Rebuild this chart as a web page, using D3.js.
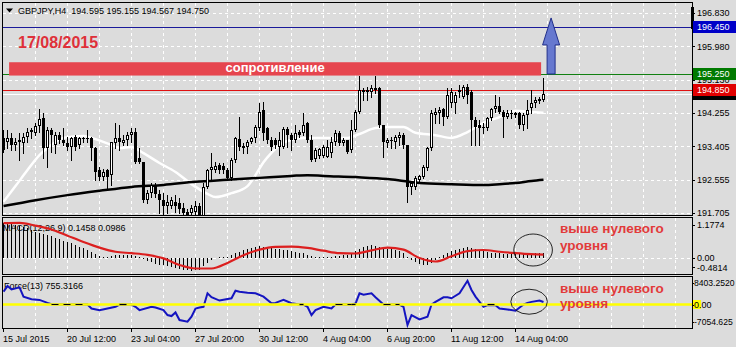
<!DOCTYPE html>
<html><head><meta charset="utf-8">
<script src="https://cdn.jsdelivr.net/npm/d3@7"></script>
<style>
html,body{margin:0;padding:0;background:#dcdcdc;}
svg{display:block;font-family:"Liberation Sans",Arial,sans-serif;}
</style>
</head><body>
<svg id="c" width="736" height="347"></svg>
<script>
// ---------------- DATA ----------------
const titleText = "GBPJPY,H4  194.595 195.155 194.567 194.750";
const dateText = "17/08/2015";
const zoneText = "сопротивление";
const noteLine1 = "выше нулевого";
const noteLine2 = "уровня";

const openP = [193.61,193.52,193.61,193.44,193.57,193.48,193.65,193.78,193.75,193.92,
194.12,193.35,193.82,193.44,193.69,193.57,193.48,193.40,193.65,193.44,
193.61,193.59,193.61,193.35,192.80,192.63,192.80,192.67,193.48,193.61,
193.48,193.57,193.69,193.78,193.10,193.01,192.04,192.21,192.42,192.19,
192.04,191.87,191.88,191.99,191.95,191.82,191.74,191.71,191.73,191.87,
191.60,192.38,192.80,192.80,192.93,192.90,192.80,192.59,193.06,193.58,
193.41,193.40,193.52,193.61,193.86,194.33,193.86,193.57,193.57,193.40,
193.40,193.84,193.69,193.57,193.78,193.74,193.99,193.57,193.07,193.16,
193.16,193.14,193.23,193.52,193.75,193.48,193.57,193.31,193.82,194.29,
194.84,194.80,194.80,194.88,194.88,193.95,193.48,193.57,193.52,193.61,
193.69,193.44,192.36,192.36,192.55,192.63,192.84,193.35,194.20,194.25,
194.35,194.16,194.50,194.50,194.84,194.67,194.93,194.80,194.08,193.95,
193.86,193.86,194.12,194.35,194.43,194.29,194.16,194.25,194.20,194.25,
193.95,194.20,194.37,194.50,194.57,194.595];
const highP = [193.82,193.82,193.74,193.61,193.74,193.74,193.86,193.86,193.99,194.35,
194.25,193.90,193.86,193.78,193.78,193.86,193.65,193.65,193.69,193.65,
193.65,193.82,193.65,193.40,192.89,192.82,192.82,193.52,193.99,193.95,
193.69,193.78,193.86,193.86,193.35,193.01,192.29,192.46,192.46,192.29,
192.21,192.16,192.12,192.16,192.08,191.95,191.80,191.91,192.00,191.95,
192.46,192.82,193.23,193.01,192.97,192.97,192.84,193.10,193.65,194.16,
193.48,193.57,193.65,193.95,194.50,194.54,193.91,193.65,193.61,193.78,
193.91,193.91,193.74,193.95,193.82,194.25,194.03,193.69,193.35,193.35,
193.44,193.57,193.65,193.82,193.80,193.61,193.57,194.08,194.33,195.20,
194.88,194.93,194.97,195.20,194.93,193.95,193.61,193.65,193.69,193.78,
193.74,193.44,192.50,192.65,192.67,192.93,193.40,194.33,194.37,194.42,
194.37,194.88,194.88,194.80,194.97,194.97,195.00,194.84,194.16,194.08,
193.99,194.16,194.37,194.71,194.67,194.33,194.33,194.33,194.29,194.29,
194.26,194.59,194.83,194.67,194.67,195.155];
const lowP = [193.27,193.35,193.31,193.31,193.06,193.23,193.52,193.61,193.69,193.78,
193.10,192.89,193.27,193.23,193.48,193.44,193.31,193.06,193.31,193.35,
193.52,193.52,193.06,192.55,192.55,192.55,192.29,192.42,193.35,193.31,
193.44,193.44,193.52,192.98,192.97,191.99,191.95,192.12,192.12,191.70,
191.66,191.70,191.82,191.74,191.70,191.65,191.63,191.63,191.60,191.55,
191.55,192.33,192.55,192.76,192.72,192.73,192.55,192.55,193.01,193.31,
193.23,193.23,193.48,193.52,193.82,193.57,193.48,193.31,193.35,193.18,
193.35,193.40,193.31,193.52,193.65,193.69,193.52,193.04,193.04,193.10,
193.12,193.12,193.14,193.44,193.44,193.44,193.23,193.27,193.80,194.26,
194.59,194.59,194.67,194.76,193.91,193.14,193.40,193.35,193.35,193.44,
193.35,191.99,192.19,192.31,192.50,192.59,192.80,193.31,194.00,194.00,
193.95,194.12,194.42,194.25,194.67,194.63,194.50,193.44,193.44,193.44,
193.74,193.82,194.08,194.29,194.26,193.65,194.12,194.12,194.16,193.86,
193.82,193.86,194.25,194.42,194.52,194.567];
const closeP = [193.31,193.61,193.44,193.52,193.52,193.65,193.78,193.82,193.92,194.09,
193.35,193.82,193.69,193.69,193.57,193.48,193.40,193.61,193.40,193.61,
193.59,193.61,193.35,192.76,192.63,192.76,192.63,193.52,193.61,193.52,
193.57,193.69,193.78,193.01,193.01,192.04,192.21,192.42,192.19,192.04,
191.87,191.99,192.04,191.87,191.80,191.71,191.65,191.82,191.87,191.60,
192.38,192.80,192.89,192.91,192.80,192.80,192.59,193.06,193.61,193.40,
193.35,193.52,193.61,193.91,194.29,193.74,193.57,193.40,193.44,193.57,
193.84,193.69,193.57,193.74,193.69,193.95,193.57,193.06,193.31,193.33,
193.38,193.40,193.52,193.74,193.48,193.57,193.27,193.82,194.29,194.84,
194.80,194.84,194.88,194.84,193.95,193.52,193.57,193.54,193.65,193.69,
193.44,192.38,192.46,192.59,192.65,192.89,193.35,194.25,194.29,194.33,
194.16,194.71,194.80,194.71,194.80,194.93,194.71,194.08,193.91,193.86,
193.91,194.12,194.35,194.43,194.29,194.16,194.25,194.25,194.25,193.95,
194.20,194.33,194.50,194.59,194.60,194.750];

// moving averages (sampled bars)
const maFastBars = [0,3,6,9,11,15,20,22,27,29,32,35,39,43,47,51,53,57,61,63,65,67,69,72,75,80,86,89,93,97,100,103,108,112,116,120,124,128,132,135];
const maFastVals = [191.99,192.39,192.80,193.18,193.36,193.62,193.67,193.62,193.44,193.36,193.39,193.23,192.98,192.75,192.44,192.19,192.11,192.21,192.39,192.67,193.00,193.24,193.44,193.57,193.62,193.62,193.62,193.72,193.87,193.90,193.90,193.75,193.69,193.62,193.77,194.00,194.15,194.31,194.28,194.26];
const maSlowBars = [0,8,16,24,32,40,48,56,64,72,76,80,88,96,100,104,112,120,124,128,132,135];
const maSlowVals = [191.88,192.03,192.16,192.27,192.37,192.42,192.50,192.55,192.60,192.65,192.67,192.65,192.62,192.57,192.52,192.47,192.44,192.42,192.44,192.47,192.52,192.55];

// MACD(12,26,9)
const macdHist = [1.00,1.00,0.98,0.96,0.93,0.90,0.86,0.80,0.76,0.73,
0.70,0.66,0.62,0.58,0.54,0.50,0.47,0.43,0.38,0.33,
0.28,0.23,0.18,0.12,0.07,0.04,0.03,0.05,0.08,0.10,
0.10,0.10,0.09,0.07,0.02,-0.04,-0.08,-0.12,-0.16,-0.19,
-0.21,-0.24,-0.27,-0.30,-0.32,-0.34,-0.35,-0.36,-0.35,-0.33,
-0.24,-0.14,-0.06,0.00,0.02,0.03,0.04,0.09,0.14,0.18,
0.22,0.25,0.28,0.33,0.35,0.33,0.31,0.29,0.27,0.25,
0.24,0.22,0.19,0.16,0.14,0.13,0.10,0.06,0.04,0.03,
0.03,0.03,0.04,0.05,0.07,0.08,0.10,0.14,0.20,0.27,
0.32,0.34,0.36,0.35,0.32,0.28,0.27,0.26,0.24,0.20,
0.14,0.04,-0.06,-0.12,-0.16,-0.19,-0.20,-0.15,-0.06,0.02,
0.08,0.14,0.19,0.23,0.27,0.30,0.31,0.28,0.25,0.21,
0.19,0.17,0.15,0.14,0.13,0.12,0.12,0.12,0.12,0.11,
0.11,0.12,0.13,0.14,0.14,0.1458];
const macdSignalBars = [0,4,8,12,16,20,24,28,32,36,40,44,48,52,56,60,64,68,72,76,80,84,88,92,96,100,104,108,112,116,120,124,128,132,135];
const macdSignalVals = [1.00,1.01,0.93,0.82,0.64,0.46,0.30,0.18,0.14,0.09,-0.01,-0.20,-0.30,-0.30,-0.14,0.08,0.24,0.32,0.33,0.29,0.21,0.14,0.13,0.22,0.30,0.24,0.00,-0.10,0.05,0.20,0.23,0.18,0.14,0.11,0.0986];
const macdLabel = "MACD(12,26,9) 0.1458 0.0986";
const macdAxis = ["1.1774","0.00","-0.4814"];
const macdAxisVals = [1.1774,0,-0.4814];

// Force(13)
const forceBars = [0,1,2,4,5,7,9,11,12,21,22,24,26,28,29,32,33,34,37,38,40,41,42,43,44,46,47,48,49,50,51,52,54,57,58,59,61,63,65,67,68,70,72,74,75,76,77,78,80,82,83,87,88,89,90,92,93,95,99,100,101,102,104,106,107,108,110,111,112,114,116,117,118,120,121,123,124,126,128,130,131,132,134,135];
const forceVals = [3900,5600,4600,5200,2400,1600,1400,500,100,0,-1200,-1700,-1200,-700,0,0,-700,-1700,-700,-900,-1700,-3200,-3500,-2400,-4700,-5200,-3700,-1200,-900,-700,3400,2200,1200,1900,4200,3900,3600,3400,2400,400,500,1400,400,0,0,-700,-3200,-1700,-700,-1200,0,0,300,3400,3000,3400,2200,0,0,-700,-6200,-3200,-4500,-3700,0,800,2200,2200,1900,3400,7200,4400,2400,-700,-200,-200,-1200,-1500,-1900,0,500,800,1200,755.3];
const forceLabel = "Force(13) 755.3166";
const forceAxis = ["8403.2520","0.00","-7054.625"];
const forceAxisVals = [8403.252,0,-7054.625];

// axes
const timeLabels = ["15 Jul 2015","20 Jul 12:00","23 Jul 04:00","27 Jul 20:00","30 Jul 12:00","4 Aug 04:00","6 Aug 20:00","11 Aug 12:00","14 Aug 04:00"];
const timeLabelBars = [0,16,32,48,64,80,96,112,128];
const priceTicks = [196.805,195.955,195.105,194.255,193.405,192.555,191.705];
const priceTickText = ["196.830","195.980","195.130","194.255","193.405","192.555","191.705"];

// horizontal lines / objects
const bidPrice = 194.750;
const levelPrices = [196.450, 195.250, 194.850];
const levelText = ["196.450","195.250","194.850"];
const levelColors = ["#0000c8","#007a00","#e00000"];
const levelLineColors = ["#1a1a9a","#118011","#e01010"];
const zoneTop = 195.55, zoneBottom = 195.21, zoneFromBar = 1.4, zoneToBar = 134.4;
const arrowBar = 136.9, arrowFrom = 195.25, arrowTo = 196.68;

// ---------------- LAYOUT ----------------
const svg = d3.select("#c");
const L = 3, R = 692;
const x = d3.scaleLinear().domain([0, 1]).range([3.5, 7.5]);
const y = d3.scaleLinear().domain([191.653, 197.061]).range([215, 3]);
const ym = d3.scaleLinear().domain([-0.4814, 1.1774]).range([274.8, 217]);
const yf = d3.scaleLinear().domain([-7054.625, 8403.252]).range([327.8, 276.8]);
const FS = 9;

svg.append("rect").attr("width",736).attr("height",347).attr("fill","#dcdcdc");

const defs = svg.append("defs");
defs.append("clipPath").attr("id","cm").append("rect").attr("x",L).attr("y",3).attr("width",R-L).attr("height",212);
defs.append("clipPath").attr("id","cd").append("rect").attr("x",L).attr("y",218).attr("width",R-L).attr("height",56);
defs.append("clipPath").attr("id","cf").append("rect").attr("x",L).attr("y",277).attr("width",R-L).attr("height",51);
defs.append("clipPath").attr("id","ca").append("rect").attr("x",693).attr("y",0).attr("width",43).attr("height",347);

// grids
const grid = svg.append("g").attr("stroke","#ffffff").attr("stroke-dasharray","3,3").attr("shape-rendering","crispEdges");
const vBars = d3.range(8, 170, 8).filter(b => x(b) < R);
[[3,215],[218,274],[277,328]].forEach(([t,b]) => {
  grid.selectAll(null).data(vBars).enter().append("line")
    .attr("x1", d => Math.floor(x(d))+0.5).attr("x2", d => Math.floor(x(d))+0.5)
    .attr("y1", t).attr("y2", b);
});
grid.selectAll(null).data(priceTicks).enter().append("line")
  .attr("x1",L).attr("x2",R).attr("y1",d=>Math.round(y(d))+0.5).attr("y2",d=>Math.round(y(d))+0.5);
grid.append("line").attr("x1",L).attr("x2",R).attr("y1",Math.round(ym(0))+0.5).attr("y2",Math.round(ym(0))+0.5);

// ---------- MAIN PANEL ----------
const main = svg.append("g").attr("clip-path","url(#cm)");

// title
svg.append("path").attr("d","M6,8.5 L13,8.5 L9.5,12.5 Z").attr("fill","#000");
svg.append("text").attr("x",18).attr("y",14).attr("font-size",FS).attr("fill","#000").attr("xml:space","preserve").text(titleText);

// date
svg.append("text").attr("x",18).attr("y",47.7).attr("font-size",16).attr("font-weight","bold").attr("fill","#df3039").text(dateText);

// level lines
levelPrices.forEach((p,k) => {
  main.append("line").attr("x1",L).attr("x2",R).attr("y1",Math.round(y(p))+0.5).attr("y2",Math.round(y(p))+0.5)
    .attr("stroke",levelLineColors[k]).attr("stroke-width",1).attr("shape-rendering","crispEdges");
});
// bid line
main.append("line").attr("x1",L).attr("x2",R).attr("y1",Math.round(y(bidPrice))+0.5).attr("y2",Math.round(y(bidPrice))+0.5)
  .attr("stroke","#ffffff").attr("stroke-width",1).attr("shape-rendering","crispEdges");

// resistance zone
main.append("rect").attr("x",x(zoneFromBar)).attr("y",y(zoneTop)).attr("width",x(zoneToBar)-x(zoneFromBar))
  .attr("height",y(zoneBottom)-y(zoneTop)).attr("fill","#e6454e");
main.append("text").attr("x",(x(zoneFromBar)+x(zoneToBar))/2).attr("y",y(zoneBottom)-3.5).attr("text-anchor","middle")
  .attr("font-size",13).attr("font-weight","bold").attr("fill","#ffffff").text(zoneText);

// arrow
{
  const cx = x(arrowBar), yb = y(arrowFrom), yt = y(arrowTo), hy = yt + 27;
  main.append("path").attr("d",`M${cx},${yt} L${cx+8.5},${hy} L${cx+4},${hy} L${cx+4},${yb} L${cx-4},${yb} L${cx-4},${hy} L${cx-8.5},${hy} Z`)
    .attr("fill","#6678cf").attr("stroke","#22308a").attr("stroke-width",1);
}

// MAs
const lineP = (bars, vals, sc) => d3.line().x((d,i)=>x(bars[i])).y(d=>sc(d)).curve(d3.curveMonotoneX)(vals);
main.append("path").attr("d",lineP(maFastBars,maFastVals,y)).attr("fill","none").attr("stroke","#ffffff").attr("stroke-width",2.5);
main.append("path").attr("d",lineP(maSlowBars,maSlowVals,y)).attr("fill","none").attr("stroke","#000000").attr("stroke-width",2.5);

// candles
const cg = main.append("g").attr("shape-rendering","crispEdges");
openP.forEach((o,i) => {
  const c = closeP[i], hi = highP[i], lo = lowP[i];
  const cx = Math.floor(x(i));
  cg.append("line").attr("x1",cx+0.5).attr("x2",cx+0.5).attr("y1",Math.round(y(hi))).attr("y2",Math.round(y(lo))+1).attr("stroke","#000");
  const yt = Math.round(y(Math.max(o,c))), yb = Math.round(y(Math.min(o,c)));
  const h = Math.max(1, yb - yt);
  cg.append("rect").attr("x",cx-1).attr("y",yt).attr("width",3).attr("height",h).attr("fill","#000");
  if (c > o && h > 2) {
    cg.append("rect").attr("x",cx).attr("y",yt+1).attr("width",1).attr("height",h-2).attr("fill","#fff");
  }
});

// ---------- MACD PANEL ----------
const md = svg.append("g").attr("clip-path","url(#cd)");
md.append("text").attr("x",3).attr("y",230.5).attr("font-size",FS).attr("fill","#000").text(macdLabel);
md.append("g").attr("shape-rendering","crispEdges").selectAll("line").data(macdHist).enter().append("line")
  .attr("x1",(d,i)=>Math.floor(x(i))+0.5).attr("x2",(d,i)=>Math.floor(x(i))+0.5)
  .attr("y1",Math.round(ym(0))).attr("y2",d=>Math.round(ym(d))).attr("stroke","#000").attr("stroke-width",1);
md.append("path").attr("d",lineP(macdSignalBars,macdSignalVals,ym)).attr("fill","none").attr("stroke","#dc1f1f").attr("stroke-width",2.2);
md.append("ellipse").attr("cx",x(132.4)).attr("cy",ym(0.23)).attr("rx",19.3).attr("ry",16).attr("fill","none").attr("stroke","#111").attr("stroke-width",0.9);

// ---------- FORCE PANEL ----------
const fr = svg.append("g").attr("clip-path","url(#cf)");
fr.append("text").attr("x",4).attr("y",289).attr("font-size",FS).attr("fill","#000").text(forceLabel);
fr.append("path").attr("d",d3.line().x((d,i)=>x(forceBars[i])).y(d=>yf(d))(forceVals)).attr("fill","none").attr("stroke","#1414c0").attr("stroke-width",2);
fr.append("line").attr("x1",L).attr("x2",R).attr("y1",yf(0)).attr("y2",yf(0)).attr("stroke","#ffff00").attr("stroke-width",2.4);
forceVals.forEach((v,k) => {
  if (k < forceVals.length-1 && Math.abs(v) <= 300 && Math.abs(forceVals[k+1]) <= 300) {
    fr.append("line").attr("x1",x(forceBars[k])).attr("x2",x(forceBars[k+1])).attr("y1",yf(0)).attr("y2",yf(0))
      .attr("stroke","#000").attr("stroke-width",1.2).attr("stroke-dasharray","7,5");
  }
});
fr.append("ellipse").attr("cx",x(131.4)).attr("cy",yf(850)).attr("rx",18.3).attr("ry",12.5).attr("fill","none").attr("stroke","#111").attr("stroke-width",0.9);

// notes
[[233, 250], [293, 308]].forEach(([b1, b2]) => {
  svg.append("text").attr("x",560).attr("y",b1).attr("font-size",13.5).attr("font-weight","bold").attr("fill","#e23a3a").text(noteLine1);
  svg.append("text").attr("x",560).attr("y",b2).attr("font-size",13.5).attr("font-weight","bold").attr("fill","#e23a3a").text(noteLine2);
});

// panel borders
const border = svg.append("g").attr("fill","none").attr("stroke","#000").attr("shape-rendering","crispEdges");
border.append("rect").attr("x",2.5).attr("y",2.5).attr("width",R-2).attr("height",213);
border.append("rect").attr("x",2.5).attr("y",217.5).attr("width",R-2).attr("height",57);
border.append("rect").attr("x",2.5).attr("y",276.5).attr("width",R-2).attr("height",52);

// chart shift marker
svg.append("rect").attr("x",691).attr("y",7).attr("width",3).attr("height",22).attr("fill","#000");

// ---------- RIGHT AXIS ----------
const ax = svg.append("g").attr("font-size",FS);
ax.selectAll(null).data(priceTicks).enter().append("line").attr("x1",R).attr("x2",R+3)
  .attr("y1",d=>Math.round(y(d))+0.5).attr("y2",d=>Math.round(y(d))+0.5).attr("stroke","#000").attr("shape-rendering","crispEdges");
ax.selectAll(null).data(priceTicks).enter().append("text").attr("x",697).attr("y",d=>y(d)+3.3).attr("fill","#000")
  .text((d,i)=>priceTickText[i]);
// bid label (black) then level labels
ax.append("rect").attr("x",693).attr("y",Math.round(y(bidPrice))-6).attr("width",43).attr("height",12).attr("fill","#000");
levelPrices.forEach((p,k) => {
  ax.append("rect").attr("x",693).attr("y",Math.round(y(p))-6).attr("width",43).attr("height",12).attr("fill",levelColors[k]);
  ax.append("text").attr("x",697).attr("y",y(p)+3.3).attr("fill","#fff").text(levelText[k]);
});
// MACD axis
const mOff = [8, 0, -7.5];
macdAxisVals.forEach((v,k) => {
  ax.append("text").attr("x",697).attr("y",ym(v)+mOff[k]+3.3).attr("fill","#000").text(macdAxis[k]);
  ax.append("line").attr("x1",R).attr("x2",R+3).attr("y1",Math.round(ym(v)+mOff[k])+0.5).attr("y2",Math.round(ym(v)+mOff[k])+0.5).attr("stroke","#000");
});
// Force axis
const fOff = [6, 0, -6];
ax.append("rect").attr("x",693).attr("y",yf(0)-4.5).attr("width",8).attr("height",9).attr("fill","#ffff00");
forceAxisVals.forEach((v,k) => {
  ax.append("text").attr("x",694).attr("y",yf(v)+fOff[k]+3.3).attr("fill","#000")
    .attr("font-size", k===1 ? FS : 8.6).text(forceAxis[k]);
  ax.append("line").attr("x1",R).attr("x2",R+2).attr("y1",Math.round(yf(v)+fOff[k])+0.5).attr("y2",Math.round(yf(v)+fOff[k])+0.5).attr("stroke","#000");
});

// ---------- TIME AXIS ----------
const tx = svg.append("g").attr("font-size",FS);
timeLabelBars.forEach((b,k) => {
  const px = Math.floor(x(b))+0.5;
  tx.append("line").attr("x1",px).attr("x2",px).attr("y1",329).attr("y2",332).attr("stroke","#000").attr("shape-rendering","crispEdges");
  tx.append("text").attr("x",px-0.5).attr("y",341.5).attr("fill","#000").text(timeLabels[k]);
});
</script>
</body></html>
